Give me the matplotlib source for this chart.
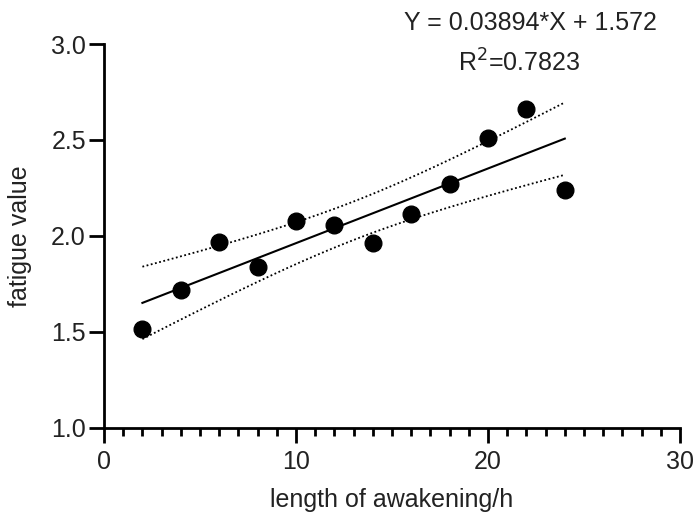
import numpy as np
import matplotlib.pyplot as plt
from matplotlib.ticker import MultipleLocator

plt.rcParams['font.family'] = ['Liberation Sans', 'DejaVu Sans']

# hours awake vs fatigue value
hours = [2, 4, 6, 8, 10, 12, 14, 16, 18, 20, 22, 24]
fatigue = [1.513, 1.717, 1.969, 1.838, 2.079, 2.058, 1.963, 2.115, 2.272, 2.508, 2.660, 2.236]

slope = 0.03894
intercept = 1.572
r2 = 0.7823
t_crit = 2.228  # t(0.975, df=10)

x = np.array(hours, dtype=float)
y = np.array(fatigue)
xs = np.linspace(x.min(), x.max(), 100)
fit = slope * xs + intercept

# 95% confidence band of the regression line
n = len(x)
resid = y - (slope * x + intercept)
s = np.sqrt(np.sum(resid ** 2) / (n - 2))
sxx = np.sum((x - x.mean()) ** 2)
half = t_crit * s * np.sqrt(1 / n + (xs - x.mean()) ** 2 / sxx)

fig = plt.figure(figsize=(6.98, 5.21), dpi=100)
ax = fig.add_axes([104 / 698, 1 - 427.5 / 521, 576 / 698, 383.5 / 521])

ax.plot(xs, fit, color='black', lw=1.5)
ax.plot(xs, fit + half, color='black', lw=1.3, ls=(0, (1, 1.4)))
ax.plot(xs, fit - half, color='black', lw=1.3, ls=(0, (1, 1.4)))
ax.plot(x, y, 'o', color='black', ms=12, clip_on=False)

ax.set_xlim(0, 30)
ax.set_ylim(1.0, 3.0)
ax.xaxis.set_major_locator(MultipleLocator(10))
ax.xaxis.set_minor_locator(MultipleLocator(1))
ax.yaxis.set_major_locator(MultipleLocator(0.5))
ax.yaxis.set_major_formatter(plt.FormatStrFormatter('%.1f'))

for side in ['top', 'right']:
    ax.spines[side].set_visible(False)
for side in ['left', 'bottom']:
    ax.spines[side].set_linewidth(2.0)

ax.tick_params(which='major', length=11, width=2.0, labelsize=18, colors='black')
ax.tick_params(axis='x', which='major', pad=5)
ax.tick_params(axis='y', which='major', pad=2)
ax.tick_params(which='minor', length=6, width=2.0)
for lbl in ax.get_xticklabels() + ax.get_yticklabels():
    lbl.set_color('#222222')

ax.set_xlabel('length of awakening/h', fontsize=18, color='#222222', va='baseline')
ax.xaxis.set_label_coords(0.5, (427.5 - 507) / 383.5)
ax.set_ylabel('fatigue value', fontsize=18, color='#222222', va='baseline')
ax.yaxis.set_label_coords((27 - 104) / 576, 0.5)

fig.text(530 / 698, 1 - 30 / 521, 'Y = 0.03894*X + 1.572', fontsize=18,
         ha='center', va='baseline', color='#222222')
fig.text(519 / 698, 1 - 72 / 521, r'R$^2$=%.4f' % r2, fontsize=18,
         ha='center', va='baseline', color='#222222')

fig.savefig('out.png', dpi=100)
